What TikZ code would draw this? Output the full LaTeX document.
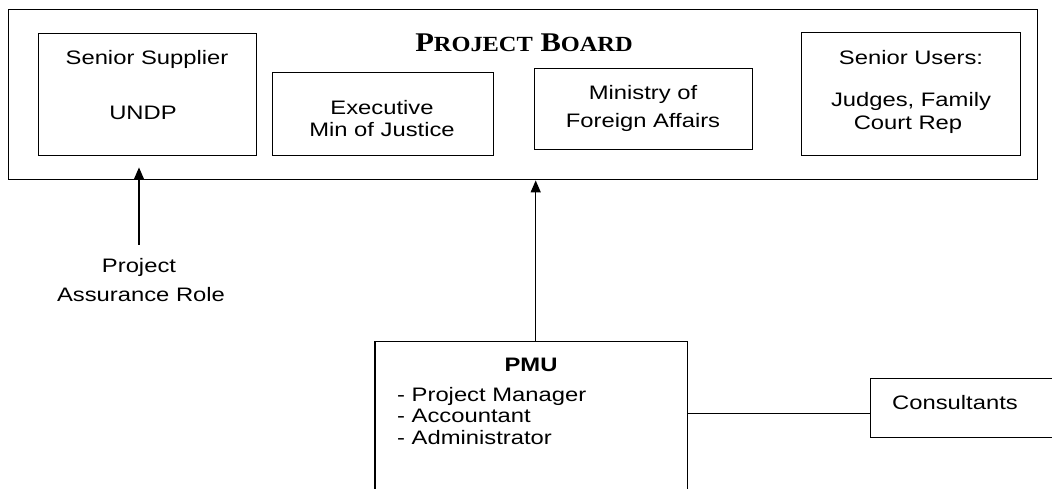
\documentclass[tikz,border=0pt]{standalone}
\usepackage{fontspec}
\setmainfont{Liberation Sans}[FakeStretch=1.22]
\newfontfamily\titlefont{Liberation Serif}[FakeStretch=1.13]
\usetikzlibrary{arrows.meta}

\begin{document}
\begin{tikzpicture}[x=1pt,y=-1pt,
  box/.style={draw, line width=1.4pt, anchor=north west, inner sep=0pt},
  txt/.style={anchor=base, inner sep=0pt, font=\fontsize{19.5}{22}\selectfont},
  ltxt/.style={txt, anchor=base west},
  link/.style={line width=1.4pt},
  uparrow/.style={link, -{Triangle[width=10pt,length=12pt]}}
]
\useasboundingbox (0,0) rectangle (1052,488);
\clip (0,0) rectangle (1052,488);

% project board frame and its members
\node[box, minimum width=1029pt, minimum height=170pt] (board) at (8,9) {};
\node[anchor=base, inner sep=0pt, font=\titlefont\bfseries\fontsize{27}{30}\selectfont] (title) at (524,51)
  {P{\fontsize{21.6}{24}\selectfont ROJECT} B{\fontsize{21.6}{24}\selectfont OARD}};

\node[box, minimum width=218pt, minimum height=122pt] (supplier) at (38,33) {};
\node[txt] (supplier1) at (147,64) {Senior Supplier};
\node[txt] (supplier2) at (143,119) {UNDP};

\node[box, minimum width=221pt, minimum height=83pt] (exec) at (272,72) {};
\node[txt] (exec1) at (382,114) {Executive};
\node[txt] (exec2) at (382,136) {Min of Justice};

\node[box, minimum width=218pt, minimum height=81pt] (mofa) at (534,68) {};
\node[txt] (mofa1) at (643,99) {Ministry of};
\node[txt] (mofa2) at (643,127) {Foreign Affairs};

\node[box, minimum width=219pt, minimum height=123pt] (users) at (801,32) {};
\node[txt] (users1) at (911,64) {Senior Users:};
\node[txt] (users2) at (911,106) {Judges, Family};
\node[txt] (users3) at (908,129) {Court Rep};

% project assurance
\node[txt] (assur1) at (139,272) {Project};
\node[txt] (assur2) at (141,301) {Assurance Role};

% project management unit
\node[box, minimum width=312pt, minimum height=200pt] (pmu) at (375,341) {};
\draw[line width=2.8pt] (pmu.north west) -- (pmu.south west);
\node[txt, font=\bfseries\fontsize{19.5}{22}\selectfont] (pmu0) at (531,371) {PMU};
\node[ltxt] (pmu1) at (397,401) {- Project Manager};
\node[ltxt] (pmu2) at (397,422) {- Accountant};
\node[ltxt] (pmu3) at (397,444) {- Administrator};

\node[box, minimum width=250pt, minimum height=59pt] (consult) at (870,378) {};
\node[ltxt] (consult1) at (892,409) {Consultants};

% connectors
\draw[uparrow] ([yshift=13pt]assur1.north) -- ([yshift=13pt]assur1.north |- board.south);
\draw[uparrow] ([xshift=4pt]pmu.north) -- ([xshift=4pt]pmu.north |- board.south);
\draw[link] ([yshift=-5pt]consult.west -| pmu.east) -- ([yshift=-5pt]consult.west);
\end{tikzpicture}
\end{document}
